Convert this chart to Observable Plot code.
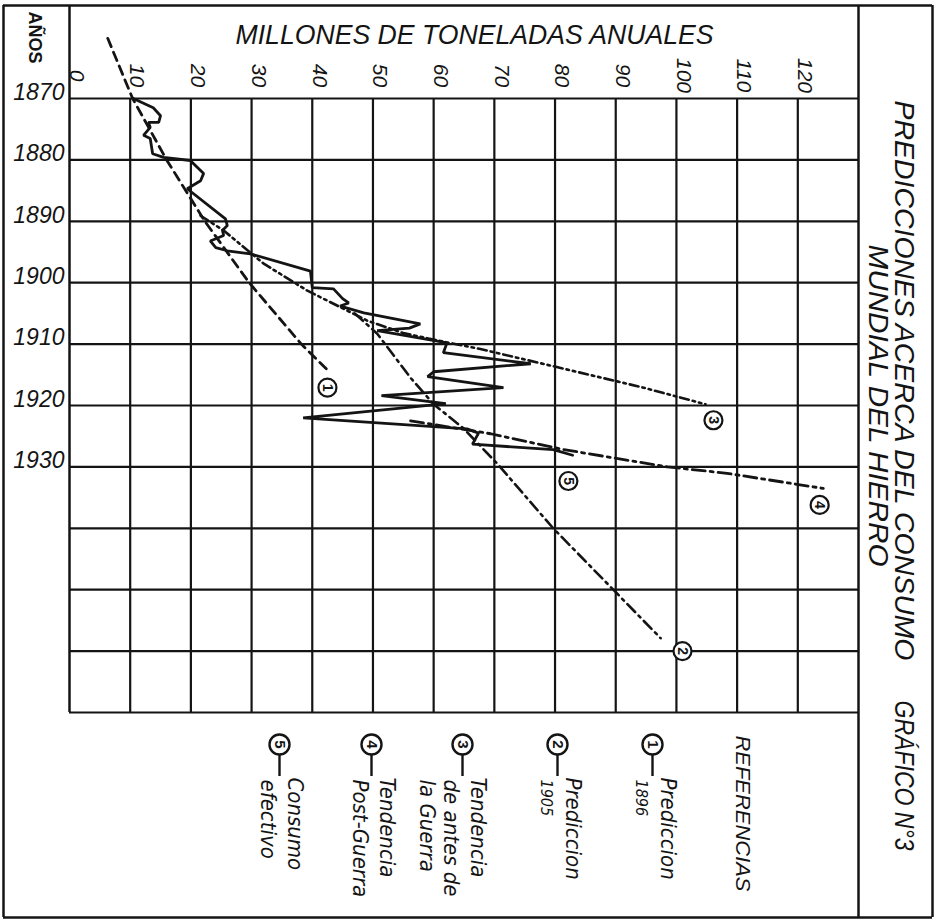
<!DOCTYPE html>
<html>
<head>
<meta charset="utf-8">
<script src="https://cdn.jsdelivr.net/npm/d3@7"></script>
<script src="https://cdn.jsdelivr.net/npm/@observablehq/plot@0.6"></script>
<style>
  html, body { margin: 0; padding: 0; background: #fff; }
  #chart { width: 935px; height: 922px; }
</style>
</head>
<body>
<div id="chart"></div>
<script>
// ---------------- DATA ----------------
const xTickLabels = [0, 10, 20, 30, 40, 50, 60, 70, 80, 90, 100, 110, 120];
const xGridLines = [10, 20, 30, 40, 50, 60, 70, 80, 90, 100, 110, 120];
const yearLabels = [1870, 1880, 1890, 1900, 1910, 1920, 1930];
const yearGridLines = [1870, 1880, 1890, 1900, 1910, 1920, 1930, 1940, 1950, 1960, 1970];

// (5) Consumo efectivo  (solid)
const consumoYear  = [1870.0,1871.5,1872.8,1873.9,1873.9,1874.7,1876.0,1876.5,1879.0,1879.6,1880.1,1882.2,1883.4,1884.7,1889.6,1890.7,1891.5,1892.3,1893.2,1894.3,1894.8,1895.3,1898.1,1900.8,1901.0,1902.6,1903.3,1903.8,1904.9,1906.7,1907.4,1907.8,1909.5,1909.8,1911.4,1913.2,1914.5,1915.3,1917.1,1918.4,1919.7,1922.0,1923.8,1924.5,1926.3,1927.2,1928.1];
const consumoValue = [10.5,13.8,15.0,14.7,13.0,13.3,12.2,13.3,13.7,15.5,19.9,22.1,21.6,19.4,25.7,26.0,25.2,25.4,23.2,24.1,26.0,29.8,39.7,40.0,43.5,45.0,46.0,44.6,48.5,57.8,56.0,50.7,60.6,62.2,61.6,76.0,60.0,59.0,71.5,51.4,62.0,38.5,65.5,67.4,66.4,79.7,82.9];

// (1) Prediccion 1896 (dashed)
const pred1896Year  = [1860.2, 1870.0, 1880.0, 1890.0, 1900.0, 1910.0, 1914.7];
const pred1896Value = [6.3, 10.4, 16.0, 22.3, 29.6, 38.2, 43.0];

// (2) Prediccion 1905 (dash-dot)
const pred1905Year  = [1905.0, 1908.3, 1915.5, 1919.8, 1923.7, 1929.5, 1940.0, 1950.0, 1957.9];
const pred1905Value = [47.0, 50.7, 56.2, 60.0, 64.9, 70.5, 79.7, 89.6, 97.4];

// (3) Tendencia de antes de la Guerra (dash-dot-dot)
const antesYear  = [1889.1, 1891.5, 1896.9, 1901.3, 1906.2, 1908.2, 1909.5, 1910.8, 1913.6, 1917.1, 1919.8];
const antesValue = [21.6, 25.4, 32.0, 39.2, 49.1, 55.0, 61.1, 67.7, 79.7, 94.6, 104.8];

// (4) Tendencia Post-Guerra (dash-dot)
const postYear  = [1922.5, 1924.6, 1927.1, 1930.0, 1931.0, 1933.5];
const postValue = [56.2, 69.4, 81.0, 98.5, 108.0, 124.2];

// circled reference numbers placed next to each curve
const refNumbers   = ["1", "2", "3", "4", "5"];
const refNumYear   = [1917.1, 1960.0, 1922.4, 1936.2, 1932.3];
const refNumValue  = [42.5, 101.0, 106.1, 123.6, 82.2];

// legend ("REFERENCIAS")
const legendNumbers = ["5", "4", "3", "2", "1"];
const legendTexts = [
  ["Consumo", "efectivo"],
  ["Tendencia", "Post-Guerra"],
  ["Tendencia", "de antes de", "la Guerra"],
  ["Prediccion", "1905"],
  ["Prediccion", "1896"]
];
const legendHeading = "REFERENCIAS";
const xTitle = "MILLONES DE TONELADAS ANUALES";
const yTitle = "AÑOS";
const titleLines = ["PREDICCIONES ACERCA DEL CONSUMO", "MUNDIAL DEL HIERRO"];
const chartNumber = "GRÁFICO N°3";

// ---------------- LAYOUT ----------------
const W = 935, H = 922;
const M = {left: 69, right: 77, top: 98, bottom: 210};
const xDomain = [0, 130], yDomain = [1870, 1970];
const pxPerUnit = (W - M.left - M.right) / (xDomain[1] - xDomain[0]);
const pxPerYear = (H - M.top - M.bottom) / (yDomain[1] - yDomain[0]);
const xAt = px => xDomain[0] + (px - M.left) / pxPerUnit;   // layout helper (pixels -> scale units)
const yAt = py => yDomain[0] + (py - M.top) / pxPerYear;
const ink = "#141414";
const FONT = "'Liberation Sans', Arial, 'DejaVu Sans', sans-serif";
const NARROW = "'Liberation Sans Narrow', 'DejaVu Sans Condensed', 'Liberation Sans', sans-serif";

const toRows = (ys, vs) => ys.map((y, i) => ({year: y, value: vs[i]}));
const consumo = toRows(consumoYear, consumoValue);
const pred1896 = toRows(pred1896Year, pred1896Value);
const pred1905 = toRows(pred1905Year, pred1905Value);
const antes = toRows(antesYear, antesValue);
const post = toRows(postYear, postValue);
const refs = refNumbers.map((n, i) => ({n, year: refNumYear[i], value: refNumValue[i]}));

// legend layout (pixel positions along the bottom band)
const legendCirclePx = [279, 371, 462, 557, 652];
const legendLineOffsets = [16, -11, -35];
const legendCircles = legendNumbers.map((n, i) => ({n, x: xAt(legendCirclePx[i]), y: yAt(744)}));
const legendStems = legendNumbers.map((n, i) => ({x: xAt(legendCirclePx[i]), y1: yAt(754), y2: yAt(776)}));
const legendLines = legendTexts.flatMap((lines, i) => lines.map((t, j) => ({
  t,
  x: xAt(legendCirclePx[i] + legendLineOffsets[j]),
  y: yAt(j === 0 ? 777 : 779),
  size: (/^\d+$/.test(t)) ? 16 : 22
})));

const plot = Plot.plot({
  width: W, height: H,
  marginLeft: M.left, marginRight: M.right, marginTop: M.top, marginBottom: M.bottom,
  x: {domain: xDomain, axis: null},
  y: {domain: yDomain, reverse: true, axis: null},
  style: {background: "#fff", color: ink, fontFamily: FONT, overflow: "visible"},
  marks: [
    // outer border
    Plot.ruleY([yAt(5), yAt(917)], {x1: xAt(3), x2: xAt(932), stroke: ink, strokeWidth: 2.5}),
    Plot.ruleX([xAt(3), xAt(932)], {y1: yAt(5), y2: yAt(917), stroke: ink, strokeWidth: 2.5}),
    // frame lines of the grid
    Plot.ruleX([xDomain[0]], {y1: yAt(5), y2: yDomain[1], stroke: ink, strokeWidth: 2.5}),
    Plot.ruleX([xDomain[1]], {y1: yAt(5), y2: yAt(917), stroke: ink, strokeWidth: 2.5}),
    // grid
    Plot.ruleX(xGridLines, {y1: yDomain[0], y2: yDomain[1], stroke: ink, strokeWidth: 2.2}),
    Plot.ruleY(yearGridLines, {x1: xDomain[0], x2: xDomain[1], stroke: ink, strokeWidth: 2.2}),

    // curves
    Plot.line(pred1896, {x: "value", y: "year", stroke: ink, strokeWidth: 2.8, strokeDasharray: "9,6"}),
    Plot.line(pred1905, {x: "value", y: "year", stroke: ink, strokeWidth: 2.6, strokeDasharray: "11,5,2.5,5"}),
    Plot.line(antes, {x: "value", y: "year", stroke: ink, strokeWidth: 2.6, strokeDasharray: "9,4,2.5,4,2.5,4"}),
    Plot.line(post, {x: "value", y: "year", stroke: ink, strokeWidth: 2.8, strokeDasharray: "13,5,3,5"}),
    Plot.line(consumo, {x: "value", y: "year", stroke: ink, strokeWidth: 2.8, strokeLinejoin: "miter"}),

    // circled numbers on the curves
    Plot.dot(refs, {x: "value", y: "year", r: 9, stroke: ink, strokeWidth: 2.2, fill: "#fff"}),
    Plot.text(refs, {x: "value", y: "year", text: "n", rotate: 90, fontSize: 14, fontWeight: "bold", fill: ink}),

    // x tick labels (rotated)
    Plot.text(xTickLabels, {x: d => d, y: yDomain[0], text: d => String(d), rotate: 90, dx: 7, dy: -23,
      fontSize: 21, fontStyle: "italic", fill: ink}),
    // year labels
    Plot.text(yearLabels, {x: xDomain[0], y: d => d, text: d => String(d), textAnchor: "end", dx: -5, dy: -6,
      fontSize: 23, fontStyle: "italic", fill: ink}),
    // axis titles
    Plot.text([xTitle], {x: xAt(474), y: yAt(35), text: d => d, fontSize: 27, fontStyle: "italic", fill: ink}),
    Plot.text([yTitle], {x: xAt(34), y: yAt(37), text: d => d, rotate: 90, fontSize: 18, fontWeight: "bold", fill: ink}),

    // right-hand title
    Plot.text([titleLines[0]], {x: xAt(903), y: yAt(100), text: d => d, rotate: 90, textAnchor: "start",
      fontSize: 28, fontStyle: "italic", fill: ink}),
    Plot.text([titleLines[1]], {x: xAt(877), y: yAt(244), text: d => d, rotate: 90, textAnchor: "start",
      fontSize: 27, fontStyle: "italic", fill: ink}),
    Plot.text([chartNumber], {x: xAt(903), y: yAt(700), text: d => d, rotate: 90, textAnchor: "start",
      fontSize: 27, fontStyle: "italic", fill: ink}),

    // legend
    Plot.text([legendHeading], {x: xAt(742), y: yAt(735), text: d => d, rotate: 90, textAnchor: "start",
      fontSize: 21, fontStyle: "italic", fill: ink}),
    Plot.ruleX(legendStems, {x: "x", y1: "y1", y2: "y2", stroke: ink, strokeWidth: 2.4}),
    Plot.dot(legendCircles, {x: "x", y: "y", r: 10, stroke: ink, strokeWidth: 2.4, fill: "#fff"}),
    Plot.text(legendCircles, {x: "x", y: "y", text: "n", rotate: 90, fontSize: 15, fontWeight: "bold", fill: ink}),
    Plot.text(legendLines, {x: "x", y: "y", text: "t", rotate: 90, textAnchor: "start", fontSize: "size",
      fontStyle: "italic", fontFamily: NARROW, fill: ink})
  ]
});

// stretch a few long lettered strings to the lengths they occupy on the drawing
const lengths = {};
lengths[xTitle] = 478;
lengths[titleLines[0]] = 560;
lengths[titleLines[1]] = 322;
lengths[chartNumber] = 150;
lengths[legendHeading] = 156;
d3.select(plot).selectAll("text").each(function() {
  const t = this.textContent;
  if (lengths[t] && this.childElementCount === 0) {
    this.setAttribute("textLength", lengths[t]);
    this.setAttribute("lengthAdjust", "spacingAndGlyphs");
  }
});

document.getElementById("chart").appendChild(plot);
</script>
</body>
</html>
